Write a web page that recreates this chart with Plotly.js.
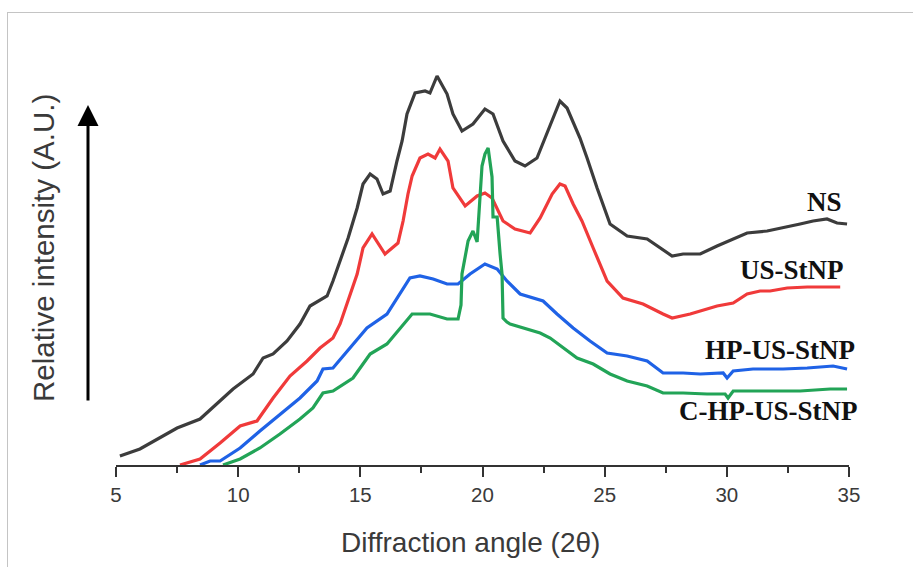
<!DOCTYPE html>
<html>
<head>
<meta charset="utf-8">
<script src="https://cdn.plot.ly/plotly-3.0.1.min.js"></script>
<style>
  html, body { margin: 0; padding: 0; background: #fff; }
  #wrap { position: relative; width: 913px; height: 567px; overflow: hidden; }
  #chart { position: absolute; left: 0; top: 0; width: 913px; height: 567px; }
  #frame { position: absolute; left: 7px; top: 12px; right: -2px; bottom: -2px;
           border-top: 1px solid #c4c4c4; border-left: 1px solid #c4c4c4; pointer-events: none; }
</style>
</head>
<body>
<div id="wrap">
  <div id="chart"></div>
  <div id="frame"></div>
</div>
<script>
// Diffraction angle (2θ) and relative intensity (arbitrary units)
const theta_NS = [5.16, 5.98, 7.50, 8.44, 9.79, 10.61, 11.02, 11.43, 12.00, 12.53, 12.94, 13.64, 13.88, 14.29, 14.50, 14.87, 15.11, 15.40, 15.68, 15.93, 16.22, 16.50, 16.71, 16.91, 17.24, 17.65, 17.85, 18.14, 18.55, 18.79, 19.16, 19.61, 20.10, 20.43, 20.84, 21.33, 21.74, 22.23, 22.77, 23.17, 23.46, 23.99, 24.28, 24.69, 25.22, 25.92, 26.74, 27.27, 27.76, 28.21, 28.91, 29.60, 30.26, 30.83, 31.65, 32.30, 33.00, 33.53, 34.10, 34.51, 34.92];
const int_NS   = [9, 16, 37, 46, 76, 91, 107, 111, 124, 141, 159, 169, 184, 211, 227, 257, 281, 291, 286, 271, 274, 304, 324, 351, 372, 374, 372, 389, 371, 351, 334, 341, 356, 351, 324, 304, 299, 307, 341, 364, 357, 327, 307, 277, 241, 229, 226, 217, 209, 211, 211, 219, 226, 232, 234, 237, 241, 244, 246, 242, 241];

const theta_US = [7.62, 8.44, 9.26, 10.08, 10.77, 11.43, 12.12, 12.82, 13.35, 13.88, 14.17, 14.50, 14.87, 15.11, 15.48, 16.01, 16.54, 16.75, 16.95, 17.12, 17.44, 17.77, 18.06, 18.26, 18.59, 18.79, 19.29, 19.78, 20.10, 20.39, 20.84, 21.33, 21.95, 22.36, 22.85, 23.17, 23.38, 23.71, 24.07, 24.53, 25.10, 25.75, 26.57, 27.39, 27.76, 28.50, 29.60, 30.26, 30.83, 31.36, 31.77, 32.47, 33.29, 34.64];
const int_US   = [0, 6, 22, 39, 44, 67, 89, 104, 117, 127, 141, 164, 191, 217, 231, 211, 222, 244, 271, 289, 307, 311, 307, 316, 304, 277, 259, 269, 272, 267, 244, 236, 232, 247, 271, 281, 279, 261, 244, 217, 184, 167, 161, 151, 147, 151, 159, 162, 171, 174, 174, 177, 178, 178];

const theta_HP = [8.44, 8.85, 9.26, 10.08, 10.89, 11.71, 12.53, 13.23, 13.47, 13.88, 14.46, 15.27, 16.09, 16.63, 17.03, 17.44, 17.98, 18.55, 19.00, 19.49, 20.10, 20.60, 21.00, 21.54, 22.07, 22.48, 23.05, 23.71, 24.40, 25.10, 25.92, 26.74, 27.39, 28.21, 28.91, 29.85, 30.01, 30.26, 31.07, 32.30, 33.29, 34.35, 34.92];
const int_HP   = [0, 4, 4, 17, 34, 51, 67, 84, 96, 97, 114, 137, 151, 171, 187, 189, 186, 181, 181, 191, 201, 196, 184, 171, 167, 164, 151, 137, 124, 112, 109, 104, 92, 92, 91, 92, 87, 94, 96, 96, 97, 99, 96];

const theta_CHP = [9.38, 10.08, 10.89, 11.71, 12.53, 13.06, 13.47, 13.88, 14.70, 15.40, 16.09, 16.63, 17.12, 17.85, 18.55, 19.00, 19.12, 19.16, 19.41, 19.61, 19.78, 19.98, 20.10, 20.23, 20.39, 20.43, 20.60, 20.72, 20.80, 20.84, 21.00, 21.13, 21.82, 22.36, 22.77, 23.30, 23.87, 24.53, 25.22, 25.92, 26.74, 27.39, 28.21, 29.19, 29.93, 30.05, 30.26, 31.65, 33.00, 34.23, 34.92];
const int_CHP   = [0, 6, 17, 31, 46, 57, 72, 74, 87, 111, 121, 137, 151, 151, 146, 146, 160, 191, 224, 234, 223, 299, 311, 317, 288, 248, 248, 211, 191, 147, 143, 141, 136, 132, 127, 117, 107, 101, 91, 84, 79, 72, 72, 71, 71, 67, 74, 74, 74, 76, 76];

const seriesNames = ["NS", "US-StNP", "HP-US-StNP", "C-HP-US-StNP"];
const xTickVals = [5, 10, 15, 20, 25, 30, 35];
const xTitle = "Diffraction angle (2θ)";
const yTitle = "Relative intensity (A.U.)";

const colors = ["#3c3c3c", "#f03a3a", "#1f62e6", "#22a457"];
const xs = [theta_NS, theta_US, theta_HP, theta_CHP];
const ys = [int_NS, int_US, int_HP, int_CHP];

const traces = xs.map((x, i) => ({
  x: x, y: ys[i], type: "scatter", mode: "lines", name: seriesNames[i],
  line: { color: colors[i], width: 3.2 }, hoverinfo: "skip"
}));

// label anchor positions (data coords)
const labelX = [33.98, 32.67, 32.18, 31.67];
const labelY = [263, 195, 115, 54];

const annotations = seriesNames.map((s, i) => ({
  text: s, x: labelX[i], y: labelY[i], xref: "x", yref: "y", showarrow: false,
  xanchor: "center", yanchor: "middle",
  font: { family: "Liberation Serif, Times New Roman, serif", size: 27, weight: "bold", color: "#111" }
}));

annotations.push({
  text: xTitle, xref: "paper", yref: "paper", x: 0.483, y: -0.1925, showarrow: false,
  xanchor: "center", yanchor: "middle",
  font: { family: "Liberation Sans, Arial, sans-serif", size: 28, color: "#3a3a3a" }
});
annotations.push({
  text: yTitle, xref: "paper", yref: "paper", x: -0.0996, y: 0.5425, showarrow: false,
  textangle: -90, xanchor: "center", yanchor: "middle",
  font: { family: "Liberation Sans, Arial, sans-serif", size: 29.5, color: "#3a3a3a" }
});
// vertical arrow next to the y title
annotations.push({
  text: "", xref: "paper", yref: "paper", x: -0.0382, y: 0.90,
  ax: 0, ay: 297, axref: "pixel", ayref: "pixel",
  showarrow: true, arrowhead: 2, arrowsize: 1.4, arrowwidth: 3, arrowcolor: "#000"
});

const layout = {
  width: 913, height: 567,
  margin: { l: 116, r: 64, t: 65, b: 102 },
  paper_bgcolor: "#fff", plot_bgcolor: "#fff",
  showlegend: false,
  xaxis: {
    range: [5, 35], tickmode: "array", tickvals: xTickVals,
    showgrid: false, zeroline: false, showline: true, linecolor: "#333", linewidth: 2,
    ticks: "outside", ticklen: 10, tickwidth: 2, tickcolor: "#333",
    minor: { ticks: "outside", dtick: 2.5, tick0: 5, ticklen: 6, tickwidth: 2, tickcolor: "#333" },
    tickfont: { family: "Liberation Sans, Arial, sans-serif", size: 20.5, color: "#3a3a3a" },
    automargin: false, fixedrange: true
  },
  yaxis: { range: [0, 400], visible: false, showgrid: false, zeroline: false, automargin: false, fixedrange: true },
  annotations: annotations
};

Plotly.newPlot("chart", traces, layout, { staticPlot: true, displayModeBar: false });
</script>
</body>
</html>
